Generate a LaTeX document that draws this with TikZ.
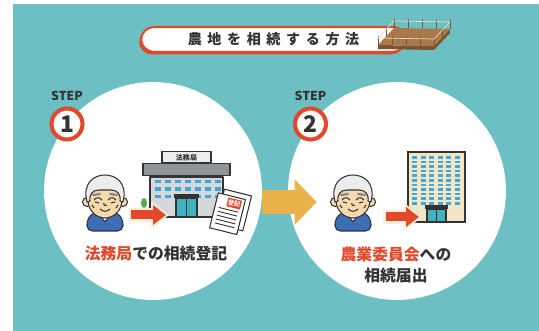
\documentclass[tikz,border=0pt]{standalone}
\usepackage{fontspec}
\setmainfont{Noto Sans CJK JP}
\usetikzlibrary{positioning}
\usetikzlibrary{shadows,arrows.meta}

\definecolor{bgteal}{HTML}{6CBFC2}
\definecolor{ink}{HTML}{333333}
\definecolor{accent}{HTML}{E2492C}
\definecolor{gold}{HTML}{EAB24A}
\definecolor{cream}{HTML}{FBEEDA}
\definecolor{skin}{HTML}{F7D9AE}
\definecolor{hair}{HTML}{EDEDED}
\definecolor{brow}{HTML}{8A8A8A}
\definecolor{suit}{HTML}{3E6DB5}
\definecolor{winblue}{HTML}{44A5D8}
\definecolor{glass}{HTML}{3FB3C0}
\definecolor{office}{HTML}{D5D8DA}
\definecolor{roofgray}{HTML}{8F9598}
\definecolor{signgray}{HTML}{EDEDED}
\definecolor{beige}{HTML}{F1E6C6}
\definecolor{wood}{HTML}{A9794C}
\definecolor{wooddark}{HTML}{7A5433}
\definecolor{rope}{HTML}{EADBC0}
\definecolor{leaf}{HTML}{4CAF50}

\newcommand\redtxt[1]{\textcolor{accent}{#1}}

\tikzset{
  outline/.style={draw=ink, line width=0.6pt, line join=round},
  stepcircle/.style={circle, fill=white, minimum size=4.36cm, inner sep=0pt},
  stepnum/.style={circle, draw=accent, line width=2.3pt, fill=white, minimum size=0.62cm,
    inner sep=0pt, text=ink, font=\fontsize{13}{13}\selectfont\bfseries},
  steptxt/.style={inner sep=0pt, text=ink, font=\fontsize{7}{7}\selectfont\bfseries},
  caption/.style={inner sep=0pt, text=ink, align=center, font=\fontsize{9}{11.4}\selectfont\bfseries},
  banner/.style={fill=white, draw=accent, line width=1.2pt, rounded corners=0.26cm,
    minimum width=5.3cm, minimum height=0.5cm, inner sep=0pt, text=ink,
    font={\fontsize{8}{8}\selectfont\bfseries\addfontfeature{LetterSpace=40}},
    drop shadow={shadow xshift=-0.04cm, shadow yshift=-0.05cm, fill=accent, opacity=1}},
  bigarrow/.style={draw=gold, line width=0.48cm, -{Triangle[length=0.44cm,width=0.88cm]}},
  redarrow/.style={draw=accent, line width=0.18cm, -{Triangle[length=0.26cm,width=0.38cm]},
    preaction={draw=cream, line width=0.28cm, shorten >=-0.06cm, shorten <=-0.05cm,
      -{Triangle[length=0.36cm,width=0.54cm]}}},
  elder/.pic={
    % shoulders and shirt
    \filldraw[outline, fill=suit, rounded corners=3pt] (-18,33) -- (-18,21) -- (-11,14)
      -- (11,14) -- (18,21) -- (18,33) -- cycle;
    \filldraw[outline, fill=white] (-7,14) -- (0,24) -- (7,14) -- cycle;
    % ears and face
    \filldraw[outline, fill=skin] (-18,4) circle (4.5);
    \filldraw[outline, fill=skin] (18,4) circle (4.5);
    \filldraw[outline, fill=skin] (0,2) ellipse [x radius=17, y radius=18];
    % hair
    \filldraw[outline, fill=hair] (-18,4) .. controls (-23,-16) and (-10,-23) .. (0,-23)
      .. controls (10,-23) and (23,-16) .. (18,4) -- (15,3)
      .. controls (16,-4) and (12,-8) .. (6,-8) -- (-6,-8)
      .. controls (-12,-8) and (-16,-4) .. (-15,3) -- cycle;
    \draw[brow, line width=1.3pt, line cap=round] (-12,-3) -- (-5,-4) (5,-4) -- (12,-3);
    % eyes, nose, mouth, wrinkles
    \draw[outline] (-11,2) .. controls (-9,-1) and (-5,-1) .. (-3,2);
    \draw[outline] (3,2) .. controls (5,-1) and (9,-1) .. (11,2);
    \draw[outline] (-1,5) .. controls (-2,8) and (1,8) .. (2,7);
    \draw[outline] (-5,11) .. controls (-2,14) and (2,14) .. (5,11);
    \draw[outline] (-13,7) -- (-11,10) (13,7) -- (11,10) (-10,4) -- (-6,5) (10,4) -- (6,5);
  }
}

\begin{document}
\begin{tikzpicture}[x=0.02cm,y=-0.02cm]
\useasboundingbox (0,0) rectangle (539,331);
\fill[white] (0,0) rectangle (539,331);
\fill[bgteal] (13,4) rectangle (539,331);

% title
\node[banner] (title) at (273.5,39.5) {農地を相続する方法};

% farmland deck
\fill[wooddark] (378,45) -- (434,46) -- (450,29) -- (450,33) -- (434,50) -- (378,49) -- cycle;
\fill[wood] (378,45) -- (394,28) -- (450,29) -- (434,46) -- cycle;
\foreach \x/\y in {378/45,392/45.25,406/45.5,420/45.75,434/46,442/37.5,450/29,
                   394/28,408/28.25,422/28.5,436/28.75,386/36.5}
  \draw[wooddark, line width=0.5pt] (\x,\y) -- (\x,\y-9);
\draw[rope, line width=0.4pt] (378,38) -- (394,21) -- (450,22) -- (434,39) -- cycle;

% steps
\node[stepcircle] (c1) at (153,191) {};
\node[stepcircle] (c2) at (397,191) {};
\draw[bigarrow] ([yshift=-0.22cm]c1.east) -- ([shift={(0.58cm,-0.22cm)}]c2.west);

\node[stepnum] (n1) at (67,124) {1};
\node[steptxt, above=3pt of n1] (s1) {STEP};
\node[stepnum] (n2) at (310.5,124) {2};
\node[steptxt, above=3pt of n2] (s2) {STEP};

% legal affairs bureau
\node[outline, fill=office, minimum width=1.46cm, minimum height=0.8cm, inner sep=0pt] (office) at (186.5,197) {};
\node[outline, fill=roofgray, minimum width=1.74cm, minimum height=0.24cm, inner sep=0pt, above=0pt of office] (roof) {};
\node[outline, fill=signgray, minimum width=0.98cm, minimum height=0.22cm, inner sep=0pt, above=0pt of roof,
  text=ink, font=\fontsize{4}{4}\selectfont\bfseries] (sign) {法務局};
\foreach \i in {0,...,6}
  \foreach \j in {0,1,2}
    \fill[winblue] ({155+\i*10},{180+\j*7.5}) rectangle +(6,3.5);
\fill[ink] (174,194) rectangle (199,198);
\filldraw[outline, fill=glass] (176,198) rectangle (197,217);
\draw[outline] (186.5,198) -- (186.5,217);
\fill[leaf] (144,203) ellipse [x radius=3, y radius=5];

% registration papers
\begin{scope}[shift={(229,212)}, rotate=-14]
  \filldraw[outline, fill=white] (-10,-21) rectangle (18,15);
  \filldraw[outline, fill=white] (-15,-16) rectangle (13,20);
  \foreach \k in {-2,2,...,14}
    \draw[ink, line width=0.5pt] (-11,\k) -- (9,\k);
  \fill[accent] (-4,-14) rectangle (10,-5);
  \node[text=white, rotate=-14, inner sep=0pt, font=\fontsize{3.5}{3.5}\selectfont\bfseries] (stamp) at (3,-9.5) {登記};
\end{scope}

% agricultural committee
\node[draw=ink, line width=1pt, fill=beige, minimum width=1.14cm, minimum height=1.4cm, inner sep=0pt] (bureau) at (436.5,187) {};
\foreach \i in {0,...,5}
  \foreach \j in {0,...,10}
    \fill[winblue] ({412+\i*8.6},{156+\j*4.6}) rectangle +(5,2.6);
\fill[ink] (425,205) rectangle (448,209);
\filldraw[outline, fill=glass] (427,209) rectangle (446,222);
\draw[outline] (436.5,209) -- (436.5,222);

% people
\pic (man1) at (105,198) {elder};
\pic (man2) at (353,198) {elder};

\coordinate (from1) at (131,215);
\coordinate (to1) at (166,215);
\coordinate (from2) at (386,217);
\coordinate (to2) at (419,217);
\draw[redarrow] (from1) -- (to1);
\draw[redarrow] (from2) -- (to2);

% captions
\node[caption] (cap1) at (156,253) {\redtxt{法務局}での相続登記};
\node[caption] (cap2) at (396,265) {\redtxt{農業委員会}への\\相続届出};
\end{tikzpicture}
\end{document}
